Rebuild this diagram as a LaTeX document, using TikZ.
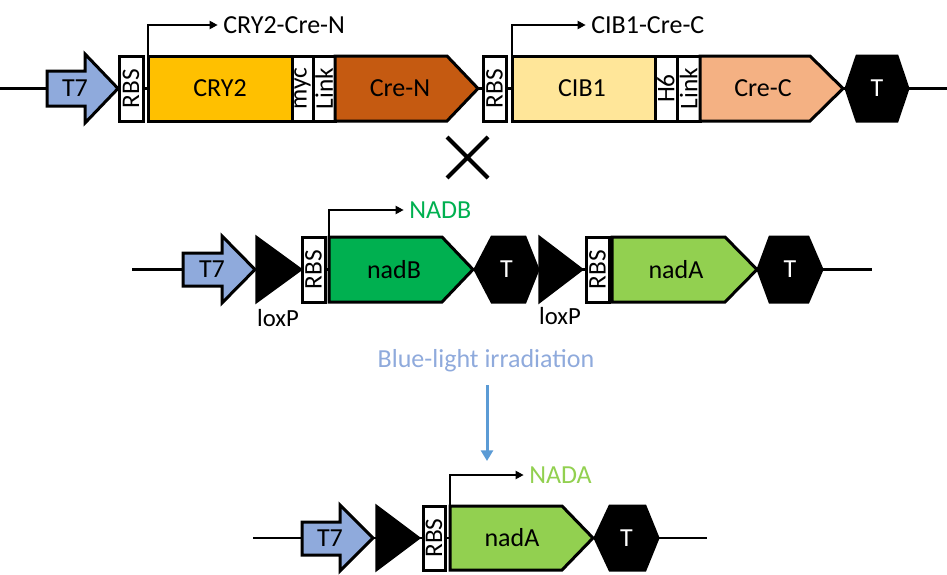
\documentclass[tikz,border=0pt]{standalone}
\usepackage{fontspec}
\setmainfont{Carlito}
\usetikzlibrary{arrows.meta}
\definecolor{tsev}{HTML}{8FAADC}
\definecolor{cryc}{HTML}{FFC000}
\definecolor{crenc}{HTML}{C55A11}
\definecolor{cibc}{HTML}{FFE699}
\definecolor{crecc}{HTML}{F4B183}
\definecolor{nadbc}{HTML}{00B050}
\definecolor{nadac}{HTML}{92D050}
\definecolor{bluetxt}{HTML}{8FAADC}
\definecolor{bluearr}{HTML}{5B9BD5}
\begin{document}
\begin{tikzpicture}[x=0.75pt,y=-0.75pt,
  outl/.style={draw=black,line width=2.25pt,line join=miter},
  dna/.style={draw=black,line width=1.6pt},
  prom/.style={draw=black,line width=1.6pt,line join=miter,-{Triangle[length=6pt,width=6pt]}},
  big/.style={font=\fontsize{19.5}{22}\selectfont,inner sep=0pt},
  small/.style={font=\fontsize{19}{21}\selectfont,inner sep=0pt,rotate=90},
  loxlab/.style={font=\fontsize{18.5}{21}\selectfont,inner sep=0pt},
  term/.style={outl,fill=black},
  ttext/.style={big,text=white},
  loxtri/.style={fill=black,draw=black,line width=1pt,line join=miter}]
\useasboundingbox (0,0) rectangle (947,575);

% ---------------- top row ----------------
\coordinate (d1a) at (0,88.5);
\coordinate (d1b) at (947,88.5);
\draw[dna] (d1a) -- (d1b);
\draw[outl,fill=tsev] (47,71) -- (85,71) -- (85,54) -- (118,88.5) -- (85,123) -- (85,106) -- (47,106) -- cycle;
\node[big] (t7a) at (75,88.5) {T7};
\draw[outl,fill=white] (119,56) rectangle (143,121);
\node[small] (rbs1) at (131,88.5) {RBS};
\draw[outl,fill=cryc] (148,56) rectangle (292,121);
\node[big] (cry2) at (220,88.5) {CRY2};
\draw[outl,fill=white] (292,56) rectangle (313,121);
\node[small] (myc) at (302.5,88.5) {myc};
\draw[outl,fill=white] (313,56) rectangle (335,121);
\node[small] (link1) at (324,88.5) {Link};
\draw[outl,fill=crenc] (335,56) -- (447,56) -- (478,88.5) -- (447,121) -- (335,121) -- cycle;
\node[big] (cren) at (400,88.5) {Cre-N};
\coordinate (p1) at (148,56);
\node[big,anchor=west] (lab1) at (223,25) {CRY2-Cre-N};
\draw[prom] (p1) |- ([xshift=-4pt]lab1.west);

\draw[outl,fill=white] (483,56) rectangle (506,121);
\node[small] (rbs2) at (494.5,88.5) {RBS};
\draw[outl,fill=cibc] (512,56) rectangle (655,121);
\node[big] (cib1) at (582,88.5) {CIB1};
\draw[outl,fill=white] (655,56) rectangle (677,121);
\node[small] (h6) at (666,88.5) {H6};
\draw[outl,fill=white] (677,56) rectangle (700,121);
\node[small] (link2) at (688.5,88.5) {Link};
\draw[outl,fill=crecc] (700,56) -- (810,56) -- (843,88.5) -- (810,121) -- (700,121) -- cycle;
\node[big] (crec) at (763,88.5) {Cre-C};
\draw[term] (846,88.5) -- (857,56) -- (897,56) -- (908,88.5) -- (897,121) -- (857,121) -- cycle;
\node[ttext] (ta) at (877,88.5) {T};
\coordinate (p2) at (512,56);
\node[big,anchor=west] (lab2) at (591,25) {CIB1-Cre-C};
\draw[prom] (p2) |- ([xshift=-4pt]lab2.west);

% cross
\coordinate (xc) at (467.5,157.5);
\draw[line width=3pt] ([shift={(-20.5,-20.5)}]xc) -- ([shift={(20.5,20.5)}]xc)
                      ([shift={(-20.5,20.5)}]xc) -- ([shift={(20.5,-20.5)}]xc);

% ---------------- middle row ----------------
\coordinate (d2a) at (132,269.5);
\coordinate (d2b) at (872,269.5);
\draw[dna] (d2a) -- (d2b);
\draw[outl,fill=tsev] (183,253) -- (222,253) -- (222,236) -- (255,269.5) -- (222,303) -- (222,286) -- (183,286) -- cycle;
\node[big] (t7b) at (212,269.5) {T7};
\draw[loxtri] (256,236) -- (302,269.5) -- (256,303) -- cycle;
\node[loxlab] (lox1) at (278,318) {loxP};
\draw[outl,fill=white] (302,237) rectangle (325,302);
\node[small] (rbs3) at (313.5,269.5) {RBS};
\draw[outl,fill=nadbc] (329,237) -- (442,237) -- (473,269.5) -- (442,302) -- (329,302) -- cycle;
\node[big] (nadb) at (394,269.5) {nadB};
\coordinate (p3) at (329,237);
\node[big,anchor=west,text=nadbc] (lab3) at (409,210) {NADB};
\draw[prom] (p3) |- ([xshift=-4pt]lab3.west);
\draw[term] (475,269.5) -- (492,237) -- (525,237) -- (538,269.5) -- (525,302) -- (492,302) -- cycle;
\node[ttext] (tb) at (506.5,269.5) {T};
\draw[loxtri] (539,236) -- (583,269.5) -- (539,303) -- cycle;
\node[loxlab] (lox2) at (560,316) {loxP};
\draw[outl,fill=white] (586,237) rectangle (609,302);
\node[small] (rbs4) at (597.5,269.5) {RBS};
\draw[outl,fill=nadac] (612,237) -- (725,237) -- (757,269.5) -- (725,302) -- (612,302) -- cycle;
\node[big] (nada1) at (676,269.5) {nadA};
\draw[term] (758,269.5) -- (770,237) -- (808,237) -- (822,269.5) -- (808,302) -- (770,302) -- cycle;
\node[ttext] (tc) at (790,269.5) {T};

% ---------------- irradiation ----------------
\node[big,text=bluetxt] (blue) at (486,361) {Blue-light irradiation};
\coordinate (aS) at (487,385);
\coordinate (aE) at (487,461);
\draw[draw=bluearr,line width=2.25pt,-{Triangle[length=8pt,width=9pt]}] (aS) -- (aE);

% ---------------- bottom row ----------------
\coordinate (d3a) at (253,538);
\coordinate (d3b) at (707,538);
\draw[dna] (d3a) -- (d3b);
\draw[outl,fill=tsev] (302,522) -- (340,522) -- (340,505) -- (373,538) -- (340,571) -- (340,555) -- (302,555) -- cycle;
\node[big] (t7c) at (330,538) {T7};
\draw[loxtri] (376,505) -- (420,538) -- (376,571) -- cycle;
\draw[outl,fill=white] (423,506) rectangle (445,570);
\node[small] (rbs5) at (434,538) {RBS};
\draw[outl,fill=nadac] (450,506) -- (562,506) -- (593,538) -- (562,570) -- (450,570) -- cycle;
\node[big] (nada2) at (512,538) {nadA};
\draw[term] (595,538) -- (610,506) -- (645,506) -- (658,538) -- (645,570) -- (610,570) -- cycle;
\node[ttext] (td) at (626.5,538) {T};
\coordinate (p4) at (450,506);
\node[big,anchor=west,text=nadac] (lab4) at (529,475) {NADA};
\draw[prom] (p4) |- ([xshift=-4pt]lab4.west);
\end{tikzpicture}
\end{document}
